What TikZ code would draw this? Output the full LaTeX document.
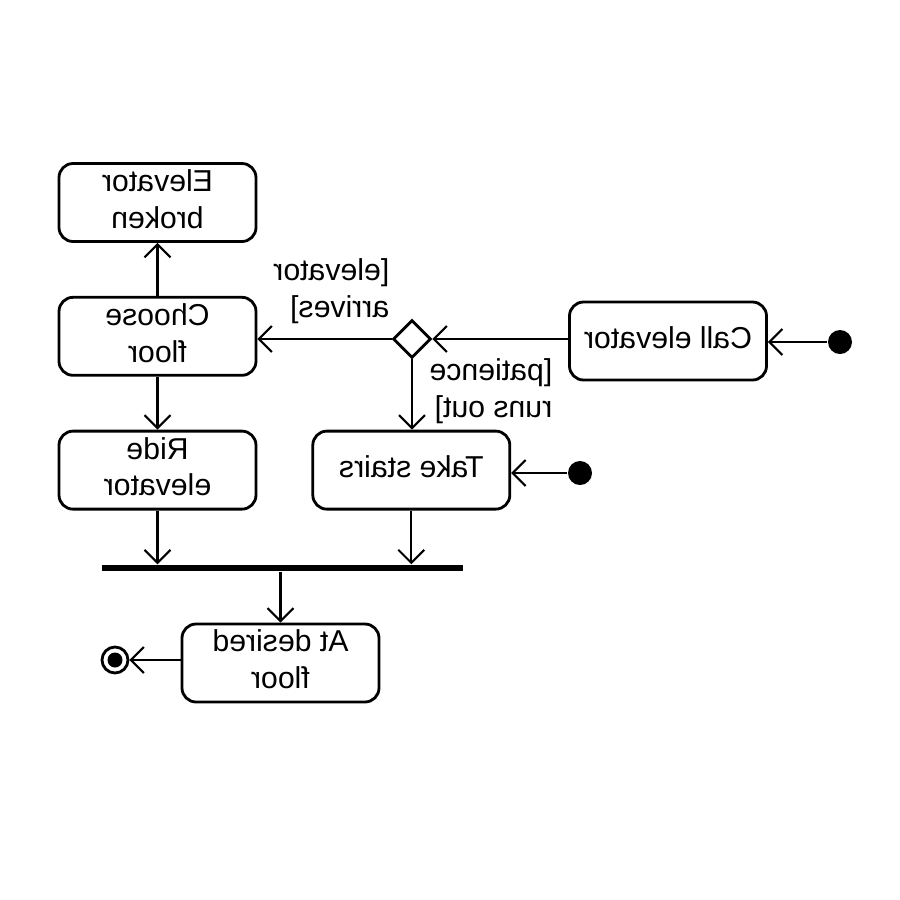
\documentclass[tikz,border=0pt]{standalone}
\usepackage{fontspec}
\setmainfont{Liberation Sans}
\usepackage{graphicx}
\usetikzlibrary{shapes.geometric, arrows.meta, positioning}
\newcommand{\flip}[2][c]{\reflectbox{\begin{tabular}{@{}#1@{}}#2\end{tabular}}}

\begin{document}
\begin{tikzpicture}
		\tikzset{
			node distance=0.53cm and 0.54cm,
			act/.style={rectangle, draw, line width=0.8pt, rounded corners=4pt, fill=white,
			minimum width=1.97cm, minimum height=0.78cm, inner sep=0pt, font=\fontsize{8.6}{10.5}\selectfont},
			guard/.style={inner sep=0pt, font=\fontsize{8.6}{10.5}\selectfont},
			decision/.style={diamond, draw, line width=0.8pt, minimum size=0.38cm, inner sep=0pt},
			startdot/.style={circle, fill=black, minimum size=0.24cm, inner sep=0pt},
			enddot/.style={circle, draw, line width=0.8pt, minimum size=0.26cm, inner sep=0pt},
			joinbar/.style={rectangle, fill=black, minimum width=3.61cm, minimum height=0.06cm, inner sep=0pt},
			flow/.style={-{Straight Barb[length=1.3mm, width=2.6mm]}, line width=0.6pt}
		}
		\useasboundingbox (0,0) rectangle (9,-9);

		\node[act] (broken) at (1.575,-2.025) {\flip{Elevator\\broken}};
		\node[act, below=of broken] (choose) {\flip{Choose\\floor}};
		\node[act, below=of choose] (ride) {\flip{Ride\\elevator}};
		\node[act, right=of ride] (stairs) {\flip{Take stairs}};
		\node[act] (call) at (6.68,-3.41) {\flip{Call elevator}};
		\node[decision] (dec) at (4.12,-3.39) {};
		\node[startdot] (start1) at (8.40,-3.42) {};
		\node[startdot] (start2) at (5.80,-4.73) {};
		\node[joinbar] (bar) at (2.825,-5.68) {};
		\node[act] (desired) at (2.805,-6.63) {\flip{At desired\\floor}};
		\node[enddot] (stop) at (1.15,-6.60) {};
		\node[circle, fill=black, minimum size=0.15cm, inner sep=0pt] (stopin) at (stop) {};

		\node[guard, anchor=east] (arrives) at (3.90,-2.92) {\flip[l]{[elevator\\arrives]}};
		\node[guard, anchor=east] (patience) at (5.53,-3.92) {\flip[l]{[patience\\runs out]}};

		\draw[flow] (start1) -- (start1 -| call.east);
		\draw[flow] (call.west |- dec.east) -- (dec.east);
		\draw[flow] (dec.west) -- (dec.west -| choose.east);
		\draw[flow] (dec.south) -- (dec.south |- stairs.north);
		\draw[flow] (choose.north) -- (broken.south);
		\draw[flow] (choose.south) -- (ride.north);
		\draw[flow] (start2) -- (start2 -| stairs.east);
		\draw[flow] (ride.south) -- (ride.south |- bar.north);
		\draw[flow] (stairs.south) -- (stairs.south |- bar.north);
		\draw[flow] (bar.south -| desired.north) -- (desired.north);
		\draw[flow] (desired.west |- stop) -- (stop);
	\end{tikzpicture}
\end{document}
